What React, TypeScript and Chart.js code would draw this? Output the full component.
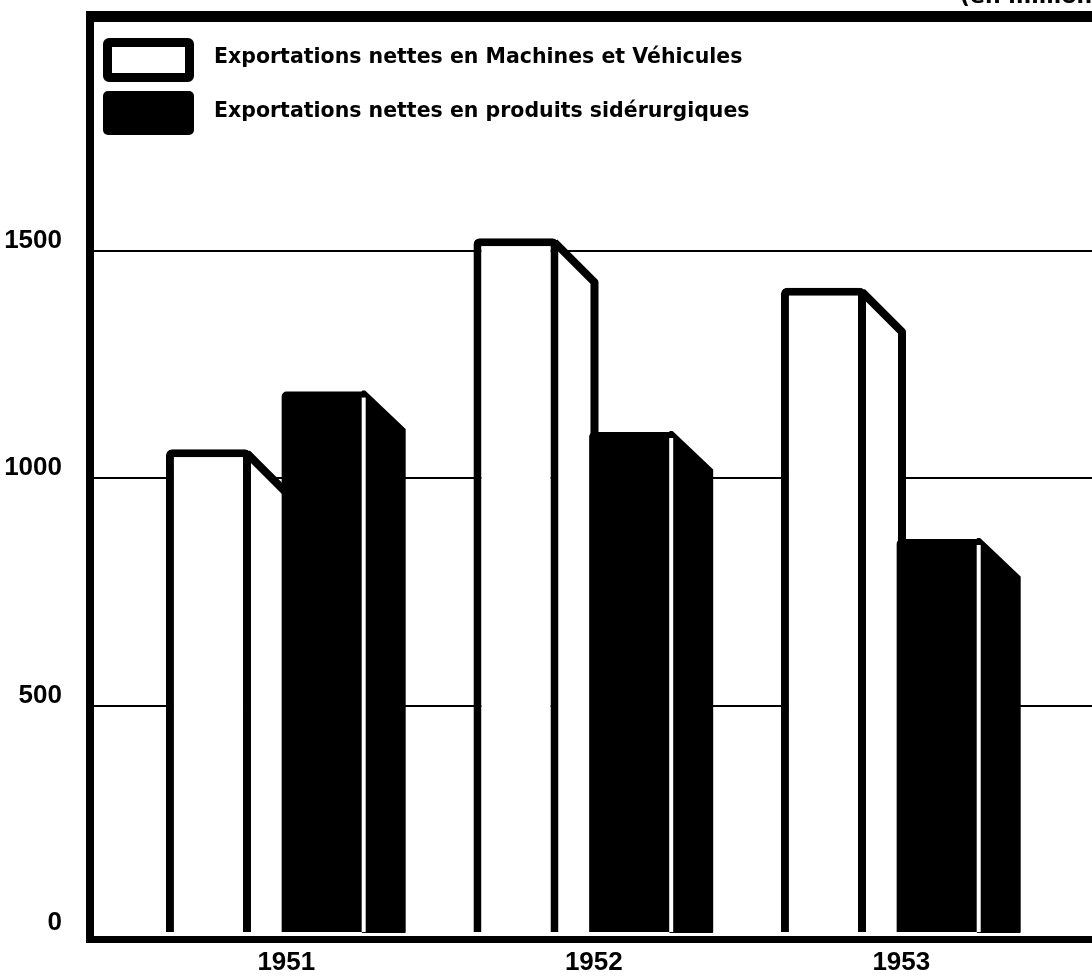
import React, { useEffect, useRef } from "react";
import { Chart, registerables } from "chart.js";

Chart.register(...registerables);

const years = ["1951", "1952", "1953"];
const machines = [1063, 1527, 1418];
const steel = [1190, 1101, 866];
const yTicks = [0, 500, 1000, 1500];
const seriesLabels = [
  "Exportations nettes en Machines et Véhicules",
  "Exportations nettes en produits sidérurgiques",
];
const unitLabel = "(en millions de dollars)";

const DEPTH_X = 40;
const DEPTH_Y = 40;
const TICK_FONT = "'Liberation Sans', 'Arial', sans-serif";

const sidesPlugin = {
  id: "sides3d",
  beforeDatasetsDraw(chart: any) {
    const ctx = chart.ctx;
    const white = chart.getDatasetMeta(0).data;
    const black = chart.getDatasetMeta(1).data;
    ctx.save();
    white.forEach((el: any) => {
      const { x, y, base, width } = el.getProps(["x", "y", "base", "width"], true);
      const r = x + width / 2 - 4;
      const t = y + 4;
      ctx.beginPath();
      ctx.moveTo(r, t);
      ctx.lineTo(r + DEPTH_X, t + DEPTH_Y);
      ctx.lineTo(r + DEPTH_X, base);
      ctx.lineTo(r, base);
      ctx.closePath();
      ctx.fillStyle = "#fff";
      ctx.fill();
      ctx.beginPath();
      ctx.moveTo(r, t);
      ctx.lineTo(r + DEPTH_X, t + DEPTH_Y);
      ctx.lineTo(r + DEPTH_X, base);
      ctx.lineWidth = 8;
      ctx.lineJoin = "round";
      ctx.lineCap = "butt";
      ctx.strokeStyle = "#000";
      ctx.stroke();
    });
    black.forEach((el: any) => {
      const { x, y, base, width } = el.getProps(["x", "y", "base", "width"], true);
      const r = x + width / 2;
      ctx.beginPath();
      ctx.moveTo(r - 4, y);
      ctx.lineTo(r - 2, y);
      ctx.lineTo(r - 2 + DEPTH_X, y + DEPTH_Y - 2);
      ctx.lineTo(r - 2 + DEPTH_X, base);
      ctx.lineTo(r - 4, base);
      ctx.closePath();
      ctx.fillStyle = "#000";
      ctx.lineJoin = "round";
      ctx.lineWidth = 2;
      ctx.strokeStyle = "#000";
      ctx.fill();
      ctx.stroke();
    });
    ctx.restore();
  },
  afterDatasetsDraw(chart: any) {
    const ctx = chart.ctx;
    const black = chart.getDatasetMeta(1).data;
    const { left, right, top, bottom } = chart.chartArea;
    ctx.save();
    ctx.fillStyle = "#fff";
    black.forEach((el: any) => {
      const { x, y, base, width } = el.getProps(["x", "y", "base", "width"], true);
      ctx.fillRect(x + width / 2 - 5, y + 6, 4, base - y - 6);
    });
    ctx.fillStyle = "#000";
    // frame: left axis, top border, bottom axis
    ctx.fillRect(left - 4, top - 12, 8, bottom + 10 - (top - 12));
    ctx.fillRect(left - 4, top - 12, right - left + 8, 11);
    ctx.fillRect(left - 4, bottom + 3, right - left + 8, 7);
    ctx.restore();
  },
};

export default function App() {
  const canvasRef = useRef<HTMLCanvasElement | null>(null);

  useEffect(() => {
    if (!canvasRef.current) return;
    const chart = new Chart(canvasRef.current, {
      type: "bar",
      data: {
        datasets: [
          {
            label: seriesLabels[0],
            data: machines.map((v, i) => ({ x: i, y: v })),
            backgroundColor: "#fff",
            borderColor: "#000",
            borderWidth: 8,
            borderRadius: 6,
            borderSkipped: "start",
            categoryPercentage: 0.7525,
            barPercentage: 0.735,
          },
          {
            label: seriesLabels[1],
            data: steel.map((v, i) => ({ x: i, y: v })),
            backgroundColor: "#000",
            borderWidth: 0,
            borderRadius: 5,
            borderSkipped: "start",
            categoryPercentage: 0.7525,
            barPercentage: 0.735,
          },
        ],
      },
      options: {
        animation: false,
        responsive: false,
        devicePixelRatio: 1,
        layout: { padding: { top: 23, left: 0, right: 0, bottom: 0 } },
        plugins: {
          legend: { display: false },
          tooltip: { enabled: false },
          title: { display: false },
        },
        scales: {
          x: {
            type: "linear",
            offset: false,
            min: -0.5734,
            max: 2.6851,
            grid: { display: false, drawTicks: false, offset: false },
            border: { display: false },
            afterBuildTicks: (scale: any) => {
              scale.ticks = years.map((_, i) => ({ value: i }));
            },
            afterFit: (scale: any) => {
              scale.height = 43;
              scale.paddingLeft = 0;
              scale.paddingRight = 0;
            },
            ticks: {
              callback: (v: any) => years[v] ?? "",
              color: "#000",
              font: { family: TICK_FONT, weight: "bold", size: 26 },
              padding: 14,
              labelOffset: 20,
              maxRotation: 0,
              autoSkip: false,
            },
          },
          y: {
            min: 0,
            max: 2000,
            afterBuildTicks: (scale: any) => {
              scale.ticks = yTicks.map((v) => ({ value: v }));
            },
            afterFit: (scale: any) => {
              scale.width = 90;
              scale.paddingTop = 0;
              scale.paddingBottom = 0;
            },
            grid: {
              drawTicks: false,
              color: (c: any) => (c.tick && c.tick.value === 0 ? "rgba(0,0,0,0)" : "#000"),
              lineWidth: 2,
            },
            border: { display: false },
            ticks: {
              callback: (v: any) => String(v),
              color: "#000",
              font: { family: TICK_FONT, weight: "bold", size: 26 },
              padding: 28,
              labelOffset: -10,
            },
          },
        },
      },
      plugins: [sidesPlugin],
    });
    return () => chart.destroy();
  }, []);

  const legendText: React.CSSProperties = {
    position: "absolute",
    left: 214,
    fontFamily: "'DejaVu Sans', sans-serif",
    fontWeight: "bold",
    fontSize: 20.5,
    lineHeight: "23px",
    color: "#000",
    whiteSpace: "nowrap",
  };

  return (
    <div
      style={{
        position: "fixed",
        left: 0,
        top: 0,
        width: 1092,
        height: 976,
        overflow: "hidden",
        background: "#fff",
      }}
    >
      <canvas ref={canvasRef} width={1092} height={976} style={{ display: "block" }} />
      <div
        style={{
          position: "absolute",
          left: 960,
          top: -15,
          fontFamily: "'DejaVu Sans', sans-serif",
          fontWeight: "bold",
          fontSize: 22,
          lineHeight: "22px",
          whiteSpace: "nowrap",
          color: "#000",
        }}
      >
        {unitLabel}
      </div>
      <div
        style={{
          position: "absolute",
          left: 103,
          top: 38,
          width: 91,
          height: 44,
          boxSizing: "border-box",
          border: "9px solid #000",
          borderRadius: 6,
          background: "#fff",
        }}
      />
      <div
        style={{
          position: "absolute",
          left: 103,
          top: 91,
          width: 91,
          height: 44,
          borderRadius: 5,
          background: "#000",
        }}
      />
      <div style={{ ...legendText, top: 45 }}>{seriesLabels[0]}</div>
      <div style={{ ...legendText, top: 99 }}>{seriesLabels[1]}</div>
    </div>
  );
}
